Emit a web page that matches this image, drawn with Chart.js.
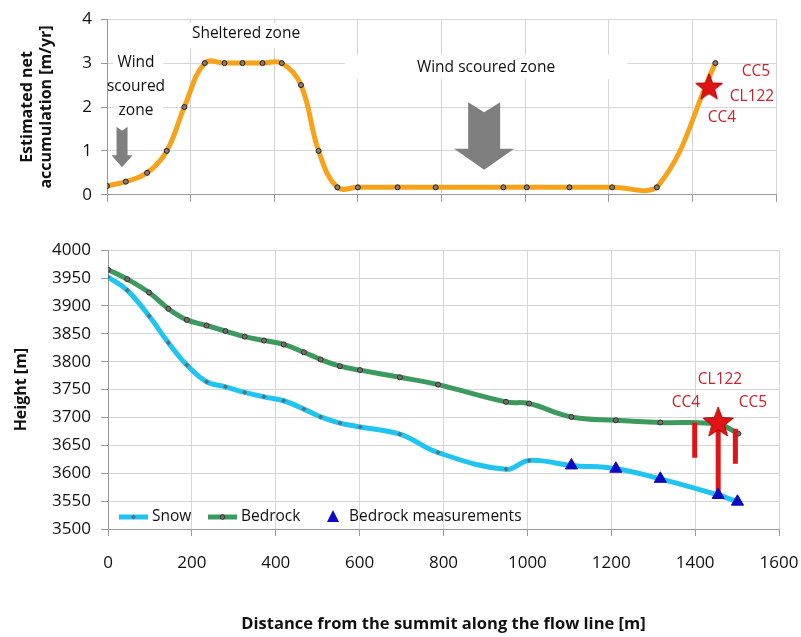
<!DOCTYPE html>
<html>
<head>
<meta charset="utf-8">
<script src="https://cdn.jsdelivr.net/npm/chart.js@4.4.1/dist/chart.umd.min.js"></script>
<style>
  html, body { margin: 0; padding: 0; background: #fff; }
  #wrap { position: relative; width: 801px; height: 637px; }
  #accChart { position: absolute; left: 0; top: 0; }
  #heightChart { position: absolute; left: 0; top: 230px; }
</style>
</head>
<body>
<div id="wrap">
  <canvas id="accChart" width="801" height="214"></canvas>
  <canvas id="heightChart" width="801" height="407"></canvas>
</div>
<script>
// Accumulation le long de la ligne d'écoulement (panneau du haut)
const accDist = [0, 45, 96, 143, 185, 234, 281, 324, 372, 418, 464, 506, 551, 600, 695, 786, 948, 1004, 1106, 1208, 1315, 1455];
const accValues = [0.2, 0.3, 0.5, 1.0, 2.0, 3.0, 3.0, 3.0, 3.0, 3.0, 2.5, 1.0, 0.17, 0.17, 0.17, 0.17, 0.17, 0.17, 0.17, 0.17, 0.17, 3.0];
const accStar = [{ x: 1440, y: 2.44 }];

// Profils (panneau du bas)
const snowDist = [0, 46, 98, 144, 188, 235, 280, 326, 372, 419, 467, 507, 553, 601, 696, 787, 949, 1004, 1105, 1211, 1317, 1455, 1501];
const snowHeight = [3952, 3928, 3882, 3834, 3794, 3764, 3755, 3745, 3737, 3730, 3715, 3701, 3690, 3683, 3670, 3637, 3607, 3623, 3614, 3608, 3590, 3561, 3549];
const bedrockDist = [0, 46, 98, 144, 188, 235, 280, 326, 372, 419, 467, 507, 553, 601, 696, 787, 949, 1004, 1105, 1211, 1317, 1455, 1503];
const bedrockHeight = [3965, 3948, 3924, 3895, 3875, 3865, 3855, 3845, 3838, 3831, 3817, 3804, 3792, 3785, 3772, 3759, 3728, 3725, 3701, 3695, 3691, 3688, 3671];
const measDist = [1105, 1211, 1317, 1455, 1501];
const measHeight = [3614, 3608, 3590, 3561, 3549];

// Carottes CC4, CL122, CC5
const coreNames = ['CC4', 'CL122', 'CC5'];
const coreDist = [1399, 1455, 1496];
const coreTop = [3691, 3690, 3680];
const coreBottom = [3628, 3561, 3617];

const xTicks = [0, 200, 400, 600, 800, 1000, 1200, 1400, 1600];

const FONT = '"Open Sans", "Liberation Sans", sans-serif';
const ORANGE = '#F8A21B';
const CYAN = '#1FC4F0';
const GREEN = '#3C9A5E';
const BLUE = '#0A0AC4';
const RED = '#E01414';
const RED_TXT = '#D0202C';
const GRID = '#d6d6d6';
const AXIS = '#9a9a9a';

Chart.defaults.font.family = FONT;
Chart.defaults.color = '#111';

function pts(xs, ys) {
    return xs.map((x, i) => ({ x: x, y: ys[i] }));
}

// Étoile pleine utilisée comme pointStyle
function starImage(r, fill) {
    const c = document.createElement('canvas');
    c.width = c.height = 2 * r + 2;
    const g = c.getContext('2d');
    g.beginPath();
    for (let i = 0; i < 10; i++) {
        const a = -Math.PI / 2 + i * Math.PI / 5;
        const rr = i % 2 ? r * 0.42 : r;
        g.lineTo(r + 1 + rr * Math.cos(a), r + 1 + rr * Math.sin(a));
    }
    g.closePath();
    g.fillStyle = fill;
    g.fill();
    g.strokeStyle = '#a00';
    g.lineWidth = 1;
    g.stroke();
    return c;
}

// Flèche grise vers le bas
function drawArrow(ctx, cx, yTop, yHead, yTip, shaftW, headW, notch) {
    ctx.beginPath();
    ctx.moveTo(cx - shaftW / 2, yTop);
    ctx.lineTo(cx, yTop + notch);
    ctx.lineTo(cx + shaftW / 2, yTop);
    ctx.lineTo(cx + shaftW / 2, yHead);
    ctx.lineTo(cx + headW / 2, yHead);
    ctx.lineTo(cx, yTip);
    ctx.lineTo(cx - headW / 2, yHead);
    ctx.lineTo(cx - shaftW / 2, yHead);
    ctx.closePath();
    ctx.fillStyle = '#7f7f7f';
    ctx.fill();
}

const topNotes = {
    id: 'topNotes',
    beforeDatasetsDraw(chart) {
        const ctx = chart.ctx;
        const xs = chart.scales.x, ys = chart.scales.y;
        ctx.save();
        ctx.fillStyle = '#fff';
        ctx.fillRect(345, 55, 282, 24);
        ctx.fillRect(185, 23, 125, 25);
        ctx.fillRect(113, 50, 50, 72);

        ctx.fillStyle = '#111';
        ctx.font = '15.5px ' + FONT;
        ctx.textAlign = 'center';
        ctx.textBaseline = 'middle';
        ctx.fillText('Sheltered zone', 246, 34);
        ctx.fillText('Wind scoured zone', 486, 68);
        ctx.fillText('Wind', 136, 63);
        ctx.fillText('scoured', 136, 87);
        ctx.fillText('zone', 136, 111);

        drawArrow(ctx, xs.getPixelForValue(36), ys.getPixelForValue(1.55), ys.getPixelForValue(0.9),
            ys.getPixelForValue(0.63), 11, 21, 4);
        drawArrow(ctx, xs.getPixelForValue(902), ys.getPixelForValue(2.11), ys.getPixelForValue(1.05),
            ys.getPixelForValue(0.57), 32, 60, 10);
        ctx.restore();
    },
    afterDatasetsDraw(chart) {
        const ctx = chart.ctx;
        ctx.save();
        ctx.fillStyle = RED_TXT;
        ctx.font = '15.5px ' + FONT;
        ctx.textAlign = 'center';
        ctx.textBaseline = 'middle';
        ctx.fillText('CC5', 756, 72);
        ctx.fillText('CL122', 752, 97);
        ctx.fillText('CC4', 722, 118);
        ctx.restore();
    }
};

const bottomNotes = {
    id: 'bottomNotes',
    afterDatasetsDraw(chart) {
        const ctx = chart.ctx;
        const off = 230; // décalage du canvas
        ctx.save();
        ctx.fillStyle = RED_TXT;
        ctx.font = '15.5px ' + FONT;
        ctx.textAlign = 'center';
        ctx.textBaseline = 'middle';
        ctx.fillText('CL122', 720, 380 - off);
        ctx.fillText('CC4', 686, 403 - off);
        ctx.fillText('CC5', 753, 403 - off);

        // Légende
        const ly = 517 - off;
        ctx.lineCap = 'butt';
        ctx.lineWidth = 5;
        ctx.strokeStyle = CYAN;
        ctx.beginPath(); ctx.moveTo(119, ly); ctx.lineTo(148, ly); ctx.stroke();
        ctx.fillStyle = '#56707c';
        ctx.beginPath();
        ctx.moveTo(133.5, ly - 2.5); ctx.lineTo(136, ly); ctx.lineTo(133.5, ly + 2.5); ctx.lineTo(131, ly);
        ctx.closePath(); ctx.fill();

        ctx.strokeStyle = GREEN;
        ctx.beginPath(); ctx.moveTo(208, ly); ctx.lineTo(237, ly); ctx.stroke();
        ctx.fillStyle = '#7a6a6a';
        ctx.strokeStyle = '#333';
        ctx.lineWidth = 1;
        ctx.beginPath(); ctx.arc(222.5, ly, 2.3, 0, Math.PI * 2); ctx.fill(); ctx.stroke();

        ctx.fillStyle = BLUE;
        ctx.beginPath();
        ctx.moveTo(333, ly - 7); ctx.lineTo(339, ly + 5); ctx.lineTo(327, ly + 5);
        ctx.closePath(); ctx.fill();

        ctx.fillStyle = '#111';
        ctx.textAlign = 'left';
        ctx.font = '15.5px ' + FONT;
        ctx.fillText('Snow', 152, ly);
        ctx.fillText('Bedrock', 241, ly);
        ctx.fillText('Bedrock measurements', 349, ly);
        ctx.restore();
    }
};

const plain = v => String(v);

function xScale(showLabels, height, extra) {
    return Object.assign({
        type: 'linear',
        min: 0,
        max: 1600,
        afterBuildTicks: s => { s.ticks = xTicks.map(v => ({ value: v })); },
        afterFit: s => {
            // hauteur fixe et pas de marge liée aux étiquettes
            s.height = height;
            s.paddingLeft = 0;
            s.paddingRight = 0;
        },
        grid: { color: GRID, tickLength: 7, tickColor: AXIS },
        border: { color: AXIS },
        ticks: { display: showLabels, font: { size: 17 }, color: '#111', padding: 17, maxRotation: 0, callback: plain }
    }, extra || {});
}

// Panneau du haut : accumulation nette
new Chart(document.getElementById('accChart').getContext('2d'), {
    type: 'line',
    data: {
        datasets: [{
            label: 'Star',
            data: accStar,
            showLine: false,
            pointStyle: starImage(14, RED),
            pointRadius: 14,
            pointHoverRadius: 14
        }, {
            label: 'Accumulation',
            data: pts(accDist, accValues),
            borderColor: ORANGE,
            borderWidth: 5,
            tension: 0.4,
            pointRadius: 2.5,
            pointBackgroundColor: '#8a7a70',
            pointBorderColor: '#222',
            pointBorderWidth: 1
        }]
    },
    options: {
        responsive: false,
        animation: false,
        layout: { padding: { top: 16, right: 25, left: 0, bottom: 0 } },
        plugins: { legend: { display: false }, tooltip: { enabled: false } },
        scales: {
            x: xScale(false, 9),
            y: {
                min: 0,
                max: 4,
                ticks: { stepSize: 1, font: { size: 17 }, color: '#111', padding: 9, callback: plain },
                grid: { color: GRID, tickLength: 6, tickColor: AXIS },
                border: { color: AXIS },
                afterFit: s => { s.width = 107; },
                title: {
                    display: true,
                    text: ['Estimated net', 'accumulation [m/yr]'],
                    font: { size: 16, weight: 'bold' },
                    color: '#111',
                    padding: { top: 18, bottom: 0 }
                }
            }
        }
    },
    plugins: [topNotes]
});

// Panneau du bas : altitude neige / socle
const coreSegments = [];
coreDist.forEach((d, i) => {
    coreSegments.push({ x: d, y: coreTop[i] });
    coreSegments.push({ x: d, y: coreBottom[i] });
    coreSegments.push({ x: d, y: null });
});

new Chart(document.getElementById('heightChart').getContext('2d'), {
    type: 'line',
    data: {
        datasets: [{
            label: 'CL122',
            data: [{ x: coreDist[1], y: coreTop[1] }],
            showLine: false,
            pointStyle: starImage(16, RED),
            pointRadius: 16,
            pointHoverRadius: 16
        }, {
            label: 'Bedrock measurements',
            data: pts(measDist, measHeight),
            showLine: false,
            pointStyle: 'triangle',
            pointRadius: 7,
            pointBackgroundColor: BLUE,
            pointBorderColor: BLUE,
            pointBorderWidth: 1
        }, {
            label: 'Cores',
            data: coreSegments,
            borderColor: RED,
            borderWidth: 5,
            tension: 0,
            spanGaps: false,
            pointRadius: 0
        }, {
            label: 'Snow',
            data: pts(snowDist, snowHeight),
            borderColor: CYAN,
            borderWidth: 5,
            tension: 0.4,
            pointStyle: 'rectRot',
            pointRadius: 2.5,
            pointBackgroundColor: '#56707c',
            pointBorderColor: '#56707c',
            pointBorderWidth: 0
        }, {
            label: 'Bedrock',
            data: pts(bedrockDist, bedrockHeight),
            borderColor: GREEN,
            borderWidth: 5,
            tension: 0.4,
            pointRadius: 2.5,
            pointBackgroundColor: '#7a6a6a',
            pointBorderColor: '#333',
            pointBorderWidth: 1
        }]
    },
    options: {
        responsive: false,
        animation: false,
        layout: { padding: { top: 16, right: 22, left: 0, bottom: 0 } },
        plugins: { legend: { display: false }, tooltip: { enabled: false } },
        scales: {
            x: xScale(true, 108, {
                title: {
                    display: true,
                    text: 'Distance from the summit along the flow line [m]',
                    font: { size: 16.5, weight: 'bold' },
                    color: '#111',
                    padding: { top: 0, bottom: 3 }
                }
            }),
            y: {
                min: 3500,
                max: 4000,
                ticks: { stepSize: 50, font: { size: 17 }, color: '#111', padding: 10, callback: plain },
                grid: { color: GRID, tickLength: 7, tickColor: AXIS },
                border: { color: AXIS },
                afterFit: s => { s.width = 108; },
                title: {
                    display: true,
                    text: 'Height [m]',
                    font: { size: 16, weight: 'bold' },
                    color: '#111',
                    padding: { top: 12, bottom: 0 }
                }
            }
        }
    },
    plugins: [bottomNotes]
});
</script>
</body>
</html>
